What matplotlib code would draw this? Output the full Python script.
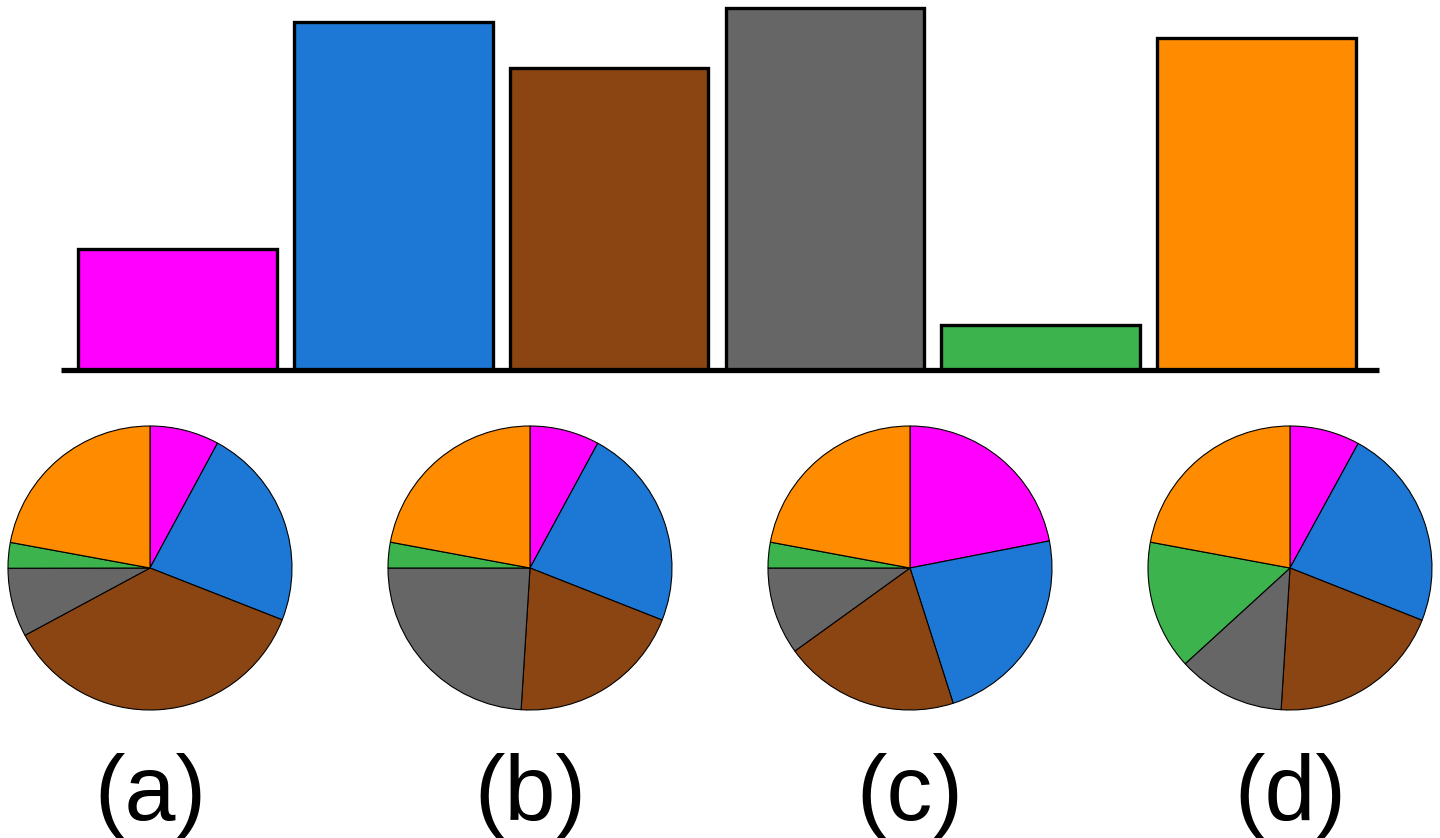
import matplotlib
matplotlib.use("Agg")
import matplotlib.pyplot as plt

categories = ["magenta", "blue", "brown", "gray", "green", "orange"]
colors = ["#FF00FF", "#1C78D4", "#8B4513", "#666666", "#3CB34C", "#FF8C00"]
bar_values = [121, 348, 302, 362, 45, 332]

# pie slice sizes (degrees), same category order, drawn clockwise from 12 o'clock
pie_a = [28.4, 83.0, 130.3, 28.2, 10.5, 79.6]
pie_b = [28.5, 83.0, 72.1, 86.4, 10.5, 79.5]
pie_c = [79.0, 83.3, 71.9, 35.8, 10.5, 79.5]
pie_d = [28.7, 82.9, 72.0, 44.0, 52.9, 79.5]
pie_labels = ["(a)", "(b)", "(c)", "(d)"]

W, H = 1440, 838
fig = plt.figure(figsize=(W / 100, H / 100), dpi=100)

# ---- bar chart ----
ax = fig.add_axes([61 / W, 1 - 370 / H, (1379 - 61) / W, 370 / H])
x = list(range(len(bar_values)))
ax.bar(x, bar_values, width=0.92, color=colors, edgecolor="black",
       linewidth=2.4, zorder=2)
ax.set_xlim(-0.54, 5.568)
ax.set_ylim(0, 370)
ax.axhline(0, color="black", linewidth=3.8, zorder=3, clip_on=False,
           solid_capstyle="butt")
ax.axis("off")

# ---- pies ----
pax = fig.add_axes([0, 0, 1, 1])
centers_x = [150, 530, 910, 1290]
for cx, vals, lab in zip(centers_x, [pie_a, pie_b, pie_c, pie_d], pie_labels):
    pax.pie(vals, colors=colors, startangle=90, counterclock=False,
            center=(cx, H - 568), radius=142, frame=True,
            wedgeprops=dict(edgecolor="black", linewidth=0.8))
    pax.text(cx, H - 820, lab, ha="center", va="baseline", fontsize=66,
             family=["Liberation Sans", "DejaVu Sans"])
pax.set_xlim(0, W)
pax.set_ylim(0, H)
pax.set_aspect("equal")
pax.axis("off")

fig.savefig("out.png", dpi=100)
